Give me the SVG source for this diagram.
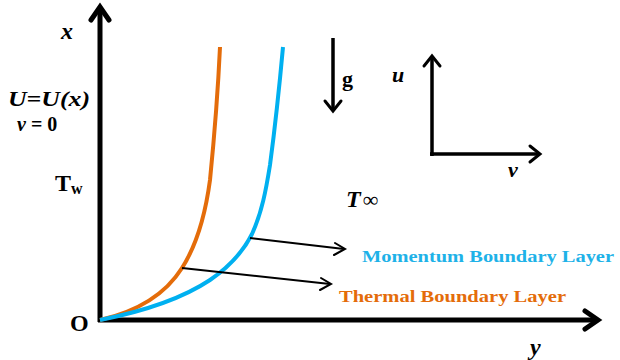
<svg xmlns="http://www.w3.org/2000/svg" width="620" height="360" viewBox="0 0 620 360">
<style>
text{font-family:"Liberation Serif","DejaVu Serif","Times New Roman",serif;font-weight:bold;fill:#000}
.i{font-style:italic}
.ax{stroke:#000;stroke-width:5;fill:none}
.ah{stroke:#000;stroke-width:5;fill:none;stroke-linecap:round;stroke-linejoin:miter}
.thin{stroke:#000;stroke-width:2;fill:none}
.thinh{stroke:#000;stroke-width:2;fill:none;stroke-linecap:round}
.mid{stroke:#000;stroke-width:3.5;fill:none}
.midh{stroke:#000;stroke-width:3;fill:none;stroke-linecap:round}
</style>
<rect width="620" height="360" fill="#fff"/>
<g id="axes">
<line class="ax" x1="100" y1="322" x2="100" y2="8"/>
<polyline class="ah" points="91,20 100,7 109,20"/>
<line class="ax" x1="98" y1="320" x2="597" y2="320"/>
<polyline class="ah" points="585,311 598,320 585,329"/>
</g>
<g id="curves">
<path d="M100,320 C135,312 165,295 182,268 C198,243 206,210 210,180 C214,140 218,90 220,47" fill="none" stroke="#E46C0A" stroke-width="4"/>
<path d="M100,320 C140,312 180,300 210,280 C232,265 244,250 252,234 C262,212 266,190 270,165 C276,120 280,80 283,47" fill="none" stroke="#00B0F0" stroke-width="4"/>
</g>
<g id="connectors">
<line class="thin" x1="250" y1="238" x2="344" y2="249"/>
<polyline class="thinh" points="335,243 345,249 334,255"/>
<line class="thin" x1="182" y1="268" x2="330" y2="284"/>
<polyline class="thinh" points="321,278 331,284 320,290"/>
</g>
<g id="gravity">
<line class="mid" x1="333" y1="38" x2="333" y2="110"/>
<polyline class="midh" points="325,101 333,111 341,101"/>
<text x="342" y="86" font-size="22">g</text>
</g>
<g id="uv-axes">
<line class="mid" x1="432" y1="156" x2="432" y2="57"/>
<polyline class="midh" points="424,66 432,56 440,66"/>
<line class="mid" x1="430" y1="154" x2="539" y2="154"/>
<polyline class="midh" points="530,146 540,154 530,162"/>
<text class="i" x="392" y="82" font-size="22">u</text>
<text class="i" x="508" y="177" font-size="22">v</text>
</g>
<g id="labels">
<text class="i" x="61" y="39" font-size="24">x</text>
<text class="i" x="8" y="106" font-size="22" textLength="82" lengthAdjust="spacingAndGlyphs">U=U(x)</text>
<text x="17" y="131" font-size="20"><tspan font-style="italic">v</tspan> = 0</text>
<text x="55" y="191" font-size="24">T<tspan font-size="16" dy="3">w</tspan></text>
<text x="70" y="331" font-size="24">O</text>
<text class="i" x="530" y="355" font-size="24">y</text>
<text x="346" y="207" font-size="24"><tspan font-style="italic">T</tspan><tspan font-weight="normal" font-size="22" dx="2">∞</tspan></text>
</g>
<g id="legend">
<text x="362" y="262" font-size="17" style="fill:#1EB2E8" textLength="252" lengthAdjust="spacingAndGlyphs">Momentum Boundary Layer</text>
<text x="339" y="302" font-size="17" style="fill:#E46C0A" textLength="227" lengthAdjust="spacingAndGlyphs">Thermal Boundary Layer</text>
</g>
</svg>
